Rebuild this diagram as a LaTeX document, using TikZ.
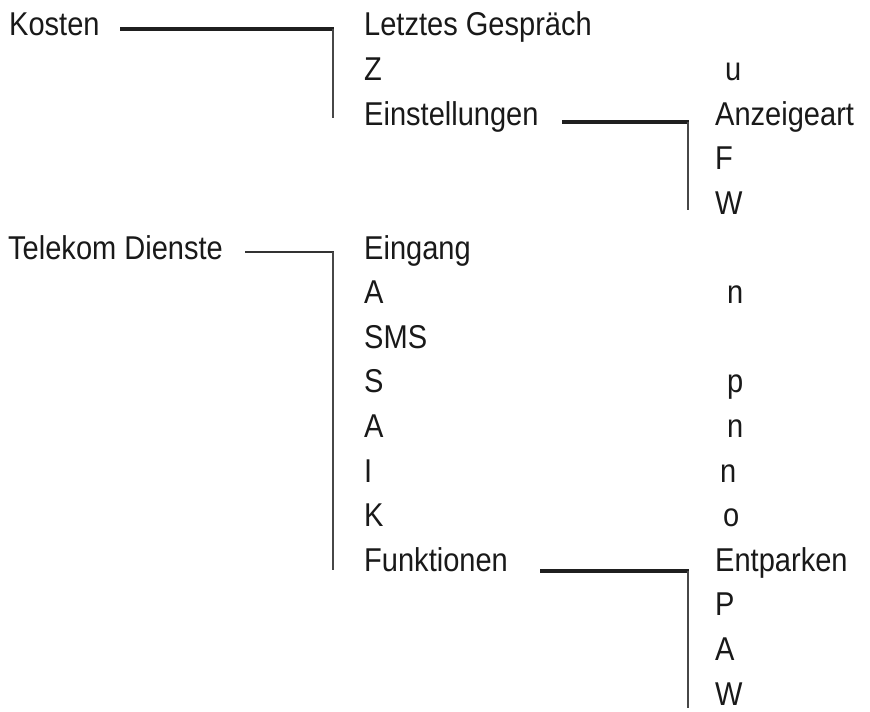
\documentclass[tikz,border=0pt]{standalone}
\usepackage{fontspec}
\setmainfont[FakeStretch=0.88]{Liberation Sans}
\begin{document}
\begin{tikzpicture}[x=1bp,y=-1bp,
  lbl/.style={anchor=base west,inner sep=0pt,font=\fontsize{33bp}{37bp}\selectfont,text=black!90},
  hthick/.style={line width=3.2bp,draw=black!88},
  hthin/.style={line width=1.9bp,draw=black!80},
  vline/.style={line width=2.1bp,draw=black!72}]
\useasboundingbox (0,0) rectangle (870,712);
\def\rowsp{44.6}
% column 1
\node[lbl] (kosten) at (9,36) {Kosten};
\node[lbl] (telekom) at (8,{36+5*\rowsp}) {Telekom Dienste};
% column 2
\node[lbl] (letztes) at (364,36) {Letztes Gespräch};
\node[lbl] (z) at (364,{36+1*\rowsp}) {Z};
\node[lbl] (einst) at (364,{36+2*\rowsp}) {Einstellungen};
\node[lbl] (eingang) at (364,{36+5*\rowsp}) {Eingang};
\node[lbl] (a1) at (364,{36+6*\rowsp}) {A};
\node[lbl] (sms) at (364,{36+7*\rowsp}) {SMS};
\node[lbl] (s) at (364,{36+8*\rowsp}) {S};
\node[lbl] (a2) at (364,{36+9*\rowsp}) {A};
\node[lbl] (i) at (364,{36+10*\rowsp}) {I};
\node[lbl] (k) at (364,{36+11*\rowsp}) {K};
\node[lbl] (funk) at (364,{36+12*\rowsp}) {Funktionen};
% column 3
\node[lbl] (u) at (725,{36+1*\rowsp}) {u};
\node[lbl] (anz) at (715,{36+2*\rowsp}) {Anzeigeart};
\node[lbl] (f) at (715,{36+3*\rowsp}) {F};
\node[lbl] (w1) at (715,{36+4*\rowsp}) {W};
\node[lbl] (n1) at (727,{36+6*\rowsp}) {n};
\node[lbl] (p1) at (727,{36+8*\rowsp}) {p};
\node[lbl] (n2) at (727,{36+9*\rowsp}) {n};
\node[lbl] (n3) at (720,{36+10*\rowsp}) {n};
\node[lbl] (o) at (723,{36+11*\rowsp}) {o};
\node[lbl] (entp) at (715,{36+12*\rowsp}) {Entparken};
\node[lbl] (p2) at (715,{36+13*\rowsp}) {P};
\node[lbl] (a3) at (715,{36+14*\rowsp}) {A};
\node[lbl] (w2) at (715,{36+15*\rowsp}) {W};
% connectors
\coordinate (k0) at (120,29);
\coordinate (k1) at (333,29);
\coordinate (k2) at (333,118);
\draw[hthick] (k0) -- ([xshift=1bp]k1);
\draw[vline] (k1) -- (k2);
\coordinate (e0) at (562,122);
\coordinate (e1) at (688,122);
\coordinate (e2) at (688,210);
\draw[hthick] (e0) -- ([xshift=1bp]e1);
\draw[vline] (e1) -- (e2);
\coordinate (t0) at (245,252);
\coordinate (t1) at (333,252);
\coordinate (t2) at (333,570);
\draw[hthin] (t0) -- ([xshift=1bp]t1);
\draw[vline] (t1) -- (t2);
\coordinate (f0) at (540,571);
\coordinate (f1) at (688,571);
\coordinate (f2) at (688,708);
\draw[hthick] (f0) -- ([xshift=1bp]f1);
\draw[vline] (f1) -- (f2);
\end{tikzpicture}
\end{document}
